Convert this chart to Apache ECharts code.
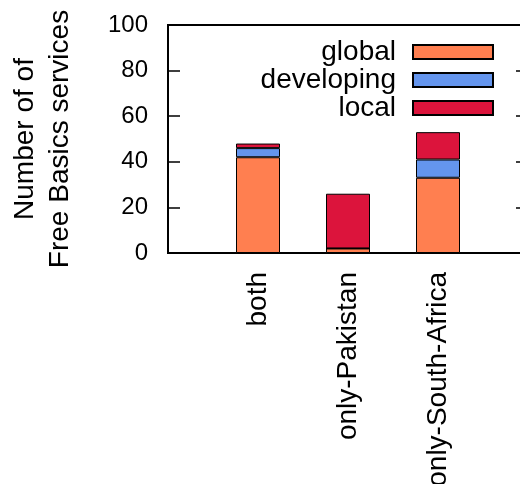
<!DOCTYPE html>
<html>
<head>
<meta charset="utf-8">
<script src="https://cdn.jsdelivr.net/npm/echarts@6/dist/echarts.min.js"></script>
<style>
html,body{margin:0;padding:0;background:#fff;}
#chart{width:520px;height:484px;}
</style>
</head>
<body>
<div id="chart"></div>
<script>
var categories = ['both', 'only-Pakistan', 'only-South-Africa'];
var globalVals = [42, 2, 33];
var developingVals = [4, 0, 8];
var localVals = [2, 24, 12];
var seriesNames = ['global', 'developing', 'local'];
var seriesColors = ['#FF7F50', '#6495ED', '#DC143C'];
var yTicks = [0, 20, 40, 60, 80, 100];

var FONT = 'Liberation Sans';
var axisCats = [''].concat(categories).concat(['']);
function pad(arr) { return [null].concat(arr).concat([null]); }
var allVals = [globalVals, developingVals, localVals];

var chart = echarts.init(document.getElementById('chart'));
chart.setOption({
  animation: false,
  grid: {
    left: 168, top: 25, width: 360, height: 228,
    outerBoundsMode: 'none',
    containLabel: false,
    show: true, borderColor: '#000', borderWidth: 2, backgroundColor: 'transparent'
  },
  legend: {
    orient: 'vertical',
    right: 26, top: 38,
    padding: 0,
    align: 'right',
    itemWidth: 80, itemHeight: 14, itemGap: 0,
    icon: 'rect',
    data: seriesNames,
    textStyle: { fontFamily: FONT, fontSize: 28, color: '#000', padding: [0, 12, 0, 0] }
  },
  xAxis: {
    type: 'category',
    data: axisCats,
    boundaryGap: false,
    axisLine: { show: true, lineStyle: { color: '#000', width: 2 } },
    axisTick: { show: false },
    axisLabel: { rotate: 90, margin: 19, fontFamily: FONT, fontSize: 28, color: '#000', interval: 0 },
    splitLine: { show: false }
  },
  yAxis: [{
    type: 'value',
    min: yTicks[0], max: yTicks[yTicks.length - 1], interval: 20,
    name: 'Number of of\nFree Basics services',
    nameLocation: 'middle',
    nameRotate: 90,
    nameGap: 90,
    nameTextStyle: { fontFamily: FONT, fontSize: 28, color: '#000', lineHeight: 35 },
    axisLine: { show: true, lineStyle: { color: '#000', width: 2 } },
    axisTick: { show: true, inside: true, length: 12, lineStyle: { color: '#000', width: 1.5 } },
    axisLabel: { margin: 20, fontFamily: FONT, fontSize: 24, color: '#000' },
    splitLine: { show: false }
  }, {
    type: 'value',
    position: 'right',
    min: yTicks[0], max: yTicks[yTicks.length - 1], interval: 20,
    axisLine: { show: true, lineStyle: { color: '#000', width: 2 } },
    axisTick: { show: true, inside: true, length: 12, lineStyle: { color: '#000', width: 1.5 } },
    axisLabel: { show: false },
    splitLine: { show: false }
  }],
  series: seriesNames.map(function (n, i) {
    return {
      name: n,
      type: 'bar',
      stack: 'total',
      barWidth: 44,
      data: pad(allVals[i]),
      itemStyle: { color: seriesColors[i], borderColor: '#000', borderWidth: 1 }
    };
  })
});
</script>
</body>
</html>
